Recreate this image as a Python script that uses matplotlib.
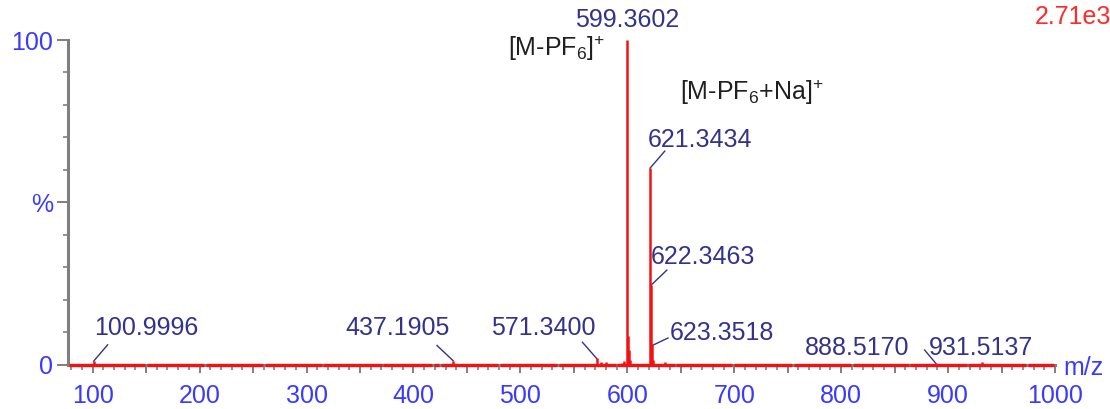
import numpy as np
import matplotlib.pyplot as plt
from matplotlib.ticker import MultipleLocator, FixedLocator

plt.rcParams['font.family'] = ['Liberation Sans', 'DejaVu Sans']
plt.rcParams['mathtext.fontset'] = 'custom'
plt.rcParams['mathtext.rm'] = 'Liberation Sans'
plt.rcParams['mathtext.it'] = 'Liberation Sans:italic'

# stick spectrum: m/z and relative intensity (%)
peak_mz = [100.9996, 437.1905, 571.3400, 575.3, 580.4, 595.3, 597.3, 599.3602,
           600.3636, 601.3665, 602.37, 621.3434, 622.3463, 623.3518, 624.35,
           635.3, 888.5170, 931.5137]
peak_int = [1.2, 1.3, 2.0, 0.8, 0.8, 0.7, 1.2, 100.0,
            9.0, 4.5, 1.5, 60.6, 24.6, 6.0, 1.5,
            0.9, 0.5, 1.0]

# gaps in the red baseline trace
baseline_gaps = [150, 205, 260, 315, 371, 418, 425, 480, 535, 590, 645, 699,
                 755, 810, 864, 918, 974]

# peak labels: text, peak m/z, peak height, label x, label y, alignment
labels = [
    ('100.9996', 100.9996, 1.2, 101.5, 11.4, 'left'),
    ('437.1905', 437.1905, 1.3, 385.0, 11.4, 'center'),
    ('571.3400', 571.3400, 2.0, 521.0, 11.4, 'center'),
    ('599.3602', 599.3602, 100.0, 599.5, 106.2, 'center'),
    ('621.3434', 621.3434, 60.6, 619.2, 69.2, 'left'),
    ('622.3463', 622.3463, 24.6, 622.0, 33.2, 'left'),
    ('623.3518', 623.3518, 6.0, 639.8, 9.8, 'left'),
    ('888.5170', 888.5170, 0.5, 814.7, 5.2, 'center'),
    ('931.5137', 931.5137, 1.0, 930.7, 5.2, 'center'),
]
# leader line end points (m/z, %), None = no leader
leaders = [(114.0, 6.2), (422.0, 6.0), (558.0, 7.0), None, (635.0, 65.8),
           (637.0, 29.2), (638.0, 8.3), (878.0, 4.6), None]

red = '#f21212'
navy = '#33338c'
blue = '#3a3aff'
gray = '#7f7f7f'
fs = 18

fig = plt.figure(figsize=(11.1, 4.09), dpi=100)
ax = fig.add_axes([0.0613, 0.1076, 0.8892, 0.7946])

# baseline trace
edges = [77] + baseline_gaps + [1000]
for a, b in zip(edges[:-1], edges[1:]):
    ax.plot([a + 0.8, b - 0.8], [0, 0], color=red, lw=2.4, solid_capstyle='butt',
            clip_on=False, zorder=4)

ax.vlines(peak_mz, 0, peak_int, color=red, lw=1.8, zorder=5)

for (txt, mz, h, tx, ty, ha), ld in zip(labels, leaders):
    ax.text(tx, ty, txt, ha=ha, va='center', fontsize=fs, color=navy)
    if ld is not None:
        ax.plot([mz, ld[0]], [h, ld[1]], color=navy, lw=1.0)

ax.text(579, 97.5, r'[M-PF$_6$]$^{+}$', ha='right', va='center', fontsize=fs, color='#202020')
ax.text(649, 84, r'[M-PF$_6$+Na]$^{+}$', ha='left', va='center', fontsize=fs, color='#202020')

ax.set_xlim(77, 1000)
ax.set_ylim(0, 100)

for s in ['top', 'right']:
    ax.spines[s].set_visible(False)
for s in ['left', 'bottom']:
    ax.spines[s].set_color(gray)
    ax.spines[s].set_linewidth(2.2)

ax.xaxis.set_major_locator(FixedLocator(np.arange(100, 1001, 50)))
ax.set_xticklabels([str(v) if v % 100 == 0 else '' for v in np.arange(100, 1001, 50)])
ax.xaxis.set_minor_locator(MultipleLocator(10))
ax.set_yticks([0, 50, 100])
ax.set_yticklabels(['0', '%', '100'])
ax.yaxis.set_minor_locator(MultipleLocator(10))

ax.tick_params(axis='x', which='major', length=6, width=1.4, color=gray,
               labelsize=fs, labelcolor=blue, pad=8)
ax.tick_params(axis='x', which='minor', length=3.6, width=1.2, color=gray)
ax.tick_params(axis='y', which='major', length=8, width=1.4, color=gray,
               labelsize=fs, labelcolor=blue, pad=3)
ax.tick_params(axis='y', which='minor', length=3.6, width=1.2, color=gray)

fig.text(1083 / 1110, 1 - 368 / 409, 'm/z', ha='center', va='center', fontsize=fs, color=blue)
fig.text(1073 / 1110, 1 - 17 / 409, '2.71e3', ha='center', va='center', fontsize=fs, color='#ff2a2a')

fig.savefig('out.png', dpi=100)
